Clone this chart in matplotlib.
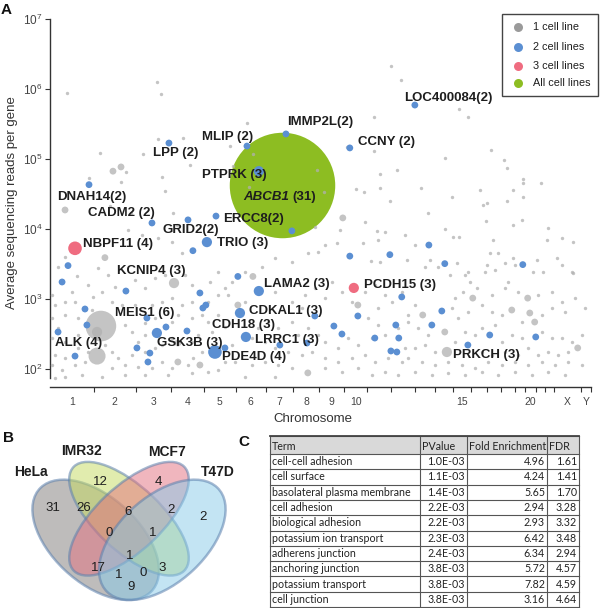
import matplotlib
matplotlib.use("Agg")
import matplotlib.pyplot as plt
from matplotlib.patches import Ellipse, Rectangle
from matplotlib.ticker import NullLocator
import numpy as np

plt.rcParams['font.family'] = ['Liberation Sans', 'DejaVu Sans']
plt.rcParams['mathtext.fontset'] = 'custom'
plt.rcParams['mathtext.rm'] = 'Liberation Sans'
plt.rcParams['mathtext.it'] = 'Liberation Sans:italic'
plt.rcParams['mathtext.bf'] = 'Liberation Sans:bold'

# --- panel A data: genome position (Mb, cumulative) and average reads per gene ---
chrom_names = ['1', '2', '3', '4', '5', '6', '7', '8', '9', '10', '11', '12', '13', '14', '15',
               '16', '17', '18', '19', '20', '21', '22', 'X', 'Y']
chrom_len_mb = [249, 243, 198, 191, 181, 171, 159, 146, 141, 136, 135, 134, 115, 107, 103,
                90, 81, 78, 59, 63, 48, 51, 155, 59]
shown_chrom = ['1', '2', '3', '4', '5', '6', '7', '8', '9', '10', '15', '20', 'X', 'Y']

# genes found in one cell line (single sample)
gray_mb = [97, 611, 634, 1126, 286, 531, 617, 760, 1029, 1160,
           800, 640, 1046, 657, 1137, 223, 406, 434, 1526, 1566,
           1697, 1851, 1949, 2006, 1851, 1886, 1983, 1749, 1794, 1886,
           1943, 2337, 2389, 2520, 2257, 2594, 2611, 2703, 2703, 2806,
           2646, 2120, 2297, 2703, 2611, 2474, 2457, 2497,
           343, 463, 703, 726, 446, 526, 617, 697, 754, 160,
           86, 46, 331, 274, 154, 217, 126, 11, 29, 86,
           143, 246, 297, 371, 486, 543, 600, 657, 771, 811,
           914, 960, 1000, 960, 903, 811, 754, 697, 640, 583,
           486, 411, 354, 240, 160, 86, 11, 46, 11, 86,
           160, 429, 469, 503, 543, 543, 600, 697, 731, 811,
           869, 903, 960, 1000, 926, 846, 811, 697, 640, 600,
           543, 469, 389, 354, 314, 217, 160, 86, 29, 11,
           69, 143, 200, 354, 429, 503, 583, 640, 697, 789,
           869, 817, 1000, 960, 903, 811, 674, 543, 429, 297,
           183, 86, 29,
           1514, 1657, 1800, 1914, 2029, 1571, 1474, 1383, 1286, 1211,
           1114, 1040, 1017, 1114, 1286, 1343, 1383, 1457, 1440, 1514,
           1571, 1611, 1669, 1726, 1800, 1857, 1914, 1954, 2011, 1874,
           1817, 1874, 1914, 1840, 1760, 1703, 1646, 1571, 1531, 1474,
           1417, 1383, 1303, 1246, 1189, 1154, 1229, 1286, 1360, 1440,
           1497, 1571, 1646, 1726, 1800, 1857, 1931, 2011, 2029, 1989,
           2046, 1040, 1057, 1154, 1229, 1303, 1383, 1571, 1669, 1760,
           1840, 1914, 1989, 1114, 1286,
           2160, 1869, 2257, 2303, 2337, 2491, 2531, 2646, 2697, 2846,
           2840, 2926, 2989, 2086, 1874, 1789, 1640, 1531, 1834, 1886,
           2040, 2143, 2326, 2389, 2497, 2543, 2646, 2783, 2760, 2897,
           2989, 2514, 2560, 2486, 2600, 2657, 2817, 2926, 2983, 2171,
           2217, 2286, 2371, 2400, 2440, 2360, 2314, 2469, 2526, 2600,
           2617, 2674, 2789, 2869, 2926, 3000, 3057, 2943, 2869, 2811,
           2697, 2583, 2526, 2389, 2331, 2297, 2086, 2046, 2103, 2160,
           2314, 2371, 2429, 2469, 2543, 2583, 2640, 2697, 2731, 2811,
           2869, 2926, 2983, 3040, 2960, 2903, 2846, 2789, 2674, 2600,
           2526, 2469, 2200, 2143, 2086, 2046, 2126, 2200, 2274, 2354,
           2429, 2503, 2583, 2657, 2731, 2811, 2886, 2960, 3040, 2086,
           2183, 2274, 2371, 2469, 2560, 2657, 2754, 2846, 2943]
gray_reads = [8.8e5, 1.26e6, 8.5e5, 3.3e5, 1.22e5, 1.18e5, 1.93e5, 2.0e5, 1.53e5, 1.18e5,
              8.2e4, 5.5e4, 7.9e4, 3.5e4, 4.0e4, 5.4e4, 4.7e4, 6.5e4, 7.0e4, 3.4e4,
              1.48e5, 4.0e5, 2.1e6, 1.35e6, 1.3e5, 6.1e4, 7.0e4, 3.7e4, 3.4e4, 3.9e4,
              2.5e4, 5.2e5, 4.0e5, 1.35e5, 1.03e5, 9.7e4, 7.4e4, 5.2e4, 4.5e4, 4.5e4,
              3.6e4, 3.9e4, 2.9e4, 2.9e4, 2.5e4, 2.2e4, 3.6e4, 2.35e4,
              2.1e4, 1.7e4, 1.7e4, 1.14e4, 9.7e3, 8.2e3, 7.4e3, 6.5e3, 4.5e3, 5.0e3,
              4.0e3, 2.9e3, 2.2e3, 2.8e3, 2.1e3, 1.58e3, 1.26e3, 1.14e3, 820, 906,
              906, 1.07e3, 1.26e3, 1.48e3, 1.87e3, 1.44e3, 2.0e3, 2.2e3, 2.2e3, 1.58e3,
              1.75e3, 2.4e3, 1.44e3, 1.14e3, 906, 906, 820, 1.03e3, 906, 820,
              820, 820, 906, 696, 535, 591, 535, 385, 277, 243,
              306, 425, 338, 243, 306, 454, 535, 469, 591, 535,
              591, 469, 591, 398, 338, 306, 243, 277, 220, 200,
              175, 158, 144, 175, 220, 175, 200, 144, 158, 114,
              97, 114, 126, 103, 114, 107, 103, 126, 103, 114,
              175, 144, 126, 97, 91, 88, 82, 82, 82, 77,
              82, 77, 74,
              1.07e4, 9.7e3, 1.26e4, 9.1e3, 8.2e3, 5.9e3, 4.5e3, 3.4e3, 3.9e3, 2.9e3,
              2.4e3, 1.75e3, 1.14e3, 906, 1.26e3, 1.58e3, 906, 1.14e3, 744, 1.44e3,
              1.03e3, 1.75e3, 1.26e3, 906, 1.26e3, 1.58e3, 1.14e3, 906, 1.26e3, 744,
              535, 425, 306, 277, 220, 277, 200, 243, 306, 385,
              306, 469, 385, 469, 385, 277, 243, 200, 175, 158,
              175, 144, 126, 144, 158, 126, 144, 126, 200, 385,
              591, 220, 126, 114, 126, 114, 103, 103, 91, 103,
              82, 91, 82, 77, 77,
              1.7e4, 9.4e3, 1.0e4, 7.7e3, 7.7e3, 1.3e4, 7.0e3, 1.14e4, 1.35e4, 1.03e4,
              7.0e3, 7.4e3, 6.5e3, 5.9e3, 7.0e3, 6.3e3, 6.3e3, 4.7e3, 3.5e3, 3.4e3,
              3.6e3, 2.9e3, 3.3e3, 2.4e3, 3.1e3, 2.6e3, 3.9e3, 3.6e3, 2.4e3, 3.9e3,
              2.35e3, 4.5e3, 4.5e3, 2.4e3, 3.3e3, 3.1e3, 2.4e3, 3.1e3, 2.4e3, 3.6e3,
              2.9e3, 2.2e3, 2.2e3, 1.75e3, 1.44e3, 1.26e3, 1.03e3, 820, 1.14e3, 1.44e3,
              1.75e3, 1.26e3, 1.14e3, 1.26e3, 906, 1.03e3, 744, 652, 744, 591,
              469, 591, 652, 652, 535, 744, 820, 469, 385, 306,
              243, 338, 306, 385, 425, 243, 306, 277, 200, 338,
              277, 277, 243, 306, 175, 158, 175, 158, 158, 175,
              158, 175, 175, 220, 200, 144, 126, 114, 126, 114,
              103, 126, 114, 126, 114, 126, 114, 126, 114, 91,
              82, 88, 82, 91, 82, 91, 82, 91, 82]

# one-cell-line genes seen in more samples (bigger grey circles)
gray_big_mb = [86, 360, 406, 314, 709, 291, 269, 269, 731, 731, 857, 1160, 1074,
               1674, 1760, 1474, 2417, 2731, 2743, 2771, 2640, 2131, 2257, 2269, 3017]
gray_big_reads = [1.87e4, 6.7e4, 7.7e4, 3.9e3, 1.69e3, 411, 338, 153, 235, 126, 114, 2.1e3, 820,
                  1.44e4, 820, 88, 1.03e3, 1.03e3, 631, 469, 696, 591, 338, 175, 200]
gray_big_n = [2, 2, 2, 2, 3, 9, 3, 5, 2, 2, 2, 2, 2, 2, 2, 2, 2, 2, 2, 2, 2, 2, 2, 3, 2]

# genes found in two cell lines
blue_mb = [680, 1126, 1194, 1349, 223, 2086, 1714, 583, 789, 949,
           1383, 897, 817, 103, 69, 434, 1074, 857, 1194, 891,
           874, 200, 211, 554, 1086, 46, 663, 611, 783, 1120,
           497, 1314, 943, 1000, 143, 571, 560, 1714, 1943, 2166,
           2257, 2703, 2011, 2240, 1760, 1623, 1669, 1514, 1977, 2183,
           1857, 1994, 1949, 1983, 2514, 2777, 2389, 1469]
blue_reads = [1.69e5, 1.53e5, 6.7e4, 2.28e5, 4.3e4, 5.9e5, 1.44e5, 1.22e4, 1.35e4, 1.53e4,
              9.4e3, 6.5e3, 4.9e3, 3.0e3, 1.75e3, 1.3e3, 2.1e3, 1.22e3, 1.3e3, 820,
              744, 720, 425, 535, 631, 338, 398, 327, 349, 287,
              200, 220, 175, 200, 153, 169, 126, 4.1e3, 4.3e3, 5.9e3,
              3.2e3, 3.1e3, 1.07e3, 674, 572, 411, 316, 572, 425, 425,
              277, 277, 181, 175, 306, 287, 220, 235]
blue_n = [2, 2, 3, 2, 2, 2, 2, 2, 2, 2,
          2, 3, 2, 2, 2, 2, 2, 2, 3, 2,
          2, 2, 2, 2, 3, 2, 2, 3, 2, 3,
          2, 2, 4, 2, 2, 2, 2, 2, 2, 2,
          2, 2, 2, 2, 2, 2, 2, 2, 2, 2,
          2, 2, 2, 2, 2, 2, 2, 2]

# three cell lines / all cell lines
pink_mb = [143, 1737]
pink_reads = [5.3e3, 1.44e3]
pink_n = [4, 3]
green_mb = [1326]
green_reads = [4.3e4]
green_n = [31]

gene_labels = [('LOC400084(2)', 2023, 7.4e5), ('IMMP2L(2)', 1354, 3.38e5), ('CCNY (2)', 1760, 1.75e5),
               ('MLIP (2)', 869, 2.06e5), ('LPP (2)', 589, 1.22e5), ('PTPRK (3)', 869, 5.9e4),
               ('DNAH14(2)', 40, 2.9e4), ('CADM2 (2)', 217, 1.69e4), ('ERCC8(2)', 989, 1.39e4),
               ('GRID2(2)', 646, 9.7e3), ('NBPF11 (4)', 189, 6.1e3), ('TRIO (3)', 954, 6.3e3),
               ('KCNIP4 (3)', 383, 2.5e3), ('LAMA2 (3)', 1223, 1.64e3), ('PCDH15 (3)', 1794, 1.58e3),
               ('MEIS1 (6)', 371, 631), ('CDKAL1 (3)', 1137, 674), ('CDH18 (3)', 926, 425),
               ('ALK (4)', 29, 235), ('GSK3B (3)', 611, 235), ('LRRC1 (3)', 1171, 260),
               ('PDE4D (4)', 983, 148), ('PRKCH (3)', 2303, 158), ('(31)', 1383, 2.9e4)]

# --- panel B data ---
venn_sets = ['HeLa', 'IMR32', 'MCF7', 'T47D']
venn_counts = [31, 12, 4, 2, 26, 6, 2, 0, 1, 1, 17, 1, 0, 3, 9]

# --- panel C data ---
go_terms = ['cell-cell adhesion', 'cell surface', 'basolateral plasma membrane', 'cell adhesion',
            'biological adhesion', 'potassium ion transport', 'adherens junction',
            'anchoring junction', 'potassium transport', 'cell junction']
go_pvalue = ['1.0E-03', '1.1E-03', '1.4E-03', '2.2E-03', '2.2E-03', '2.3E-03', '2.4E-03',
             '3.8E-03', '3.8E-03', '3.8E-03']
go_fold = [4.96, 4.24, 5.65, 2.94, 2.93, 6.42, 6.34, 5.72, 7.82, 3.16]
go_fdr = [1.61, 1.41, 1.70, 3.28, 3.32, 3.48, 2.94, 4.57, 4.59, 4.64]

GRAY = '#b0b0b0'
BLUE = '#5b8fd2'
PINK = '#ef6c80'
GREEN = '#8dbd22'
TXT = '#1e1e1e'

W, H = 600, 608
fig = plt.figure(figsize=(6.0, 6.08), dpi=100)


def px_box(x0, y0, x1, y1):
    return [x0 / W, 1 - y1 / H, (x1 - x0) / W, (y1 - y0) / H]


def msize(n):
    # circle radius grows with the number of samples
    return (2.45 * np.asarray(n, dtype=float)) ** 2


# ===== A: scatter =====
ax = fig.add_axes(px_box(50, 19, 591, 387))
ax.set_yscale('log')
ends = np.cumsum(chrom_len_mb)
centers = ends - np.array(chrom_len_mb) / 2
ax.set_xlim(0, ends[-1])
ax.set_ylim(10 ** 1.743, 1e7)

ax.scatter(green_mb, green_reads, s=msize(green_n), c=GREEN, lw=0, zorder=2)
ax.scatter(gray_mb, gray_reads, s=msize(1), c=GRAY, alpha=0.75, lw=0, zorder=3)
ax.scatter(gray_big_mb, gray_big_reads, s=msize(gray_big_n), c=GRAY, alpha=0.75, lw=0, zorder=3)
ax.scatter(blue_mb, blue_reads, s=msize(blue_n), c=BLUE, lw=0, zorder=4)
ax.scatter(pink_mb, pink_reads, s=msize(pink_n), c=PINK, lw=0, zorder=4)

for name, xm, yr in gene_labels:
    ax.text(xm, yr, name, fontsize=9.5, fontweight='bold', color=TXT, ha='left', va='center', zorder=6)
ax.text(1103, 2.9e4, 'ABCB1', fontsize=9.5, fontweight='bold', style='italic', color=TXT,
        ha='left', va='center', zorder=6)

ax.set_xticks(ends)
ax.set_xticks([centers[chrom_names.index(c)] for c in shown_chrom], minor=True)
ax.set_xticklabels(shown_chrom, minor=True)
ax.tick_params(axis='x', which='major', direction='out', length=3.5, width=0.8, color='#333',
               labelbottom=False)
ax.tick_params(axis='x', which='minor', length=0, pad=7, labelsize=7.5, labelcolor='#444')

ax.set_yticks([1e2, 1e3, 1e4, 1e5, 1e6, 1e7])
ax.set_yticklabels([r'$10^{%d}$' % k for k in range(2, 8)])
ax.yaxis.set_minor_locator(NullLocator())
ax.tick_params(axis='y', direction='out', length=3.5, width=0.8, color='#333', labelsize=8.5,
               labelcolor='#444', pad=2)

for side in ['top', 'right']:
    ax.spines[side].set_visible(False)
ax.spines['left'].set_bounds(10 ** 1.87, 1e7)
for side in ['left', 'bottom']:
    ax.spines[side].set_color('#333')
    ax.spines[side].set_linewidth(1.0)

# ===== B: Venn =====
av = fig.add_axes(px_box(18, 440, 240, 608))
av.set_xlim(0, 1)
av.set_ylim(0.147, 0.943)
av.axis('off')
venn_shapes = [(0.35, 0.47, 0.35, 0.20, 135, '#7f7b79'),
               (0.50, 0.57, 0.35, 0.15, 135, '#c5da5e'),
               (0.50, 0.57, 0.35, 0.15, 45, '#e36f7e'),
               (0.65, 0.47, 0.35, 0.20, 45, '#88cbe9')]
for cx, cy, a, b, rot, col in venn_shapes:
    av.add_patch(Ellipse((cx, cy), 2 * a, 2 * b, angle=rot, facecolor=col, alpha=0.5, lw=0))
    av.add_patch(Ellipse((cx, cy), 2 * a, 2 * b, angle=rot, facecolor='none',
                         edgecolor=(0.36, 0.50, 0.68, 0.55), lw=1.8))

# ===== overlay in pixel coordinates =====
ov = fig.add_axes([0, 0, 1, 1])
ov.set_xlim(0, W)
ov.set_ylim(H, 0)
ov.axis('off')
ov.set_zorder(5)

ov.text(6, 10, 'A', fontsize=11, fontweight='bold', ha='center', va='center', color='#111')
ov.text(8, 438, 'B', fontsize=11, fontweight='bold', ha='center', va='center', color='#111')
ov.text(244, 442, 'C', fontsize=11, fontweight='bold', ha='center', va='center', color='#111')

ov.text(12, 203, 'Average sequencing reads per gene', rotation=90, ha='center', va='center',
        fontsize=9.5, color='#333')
ov.text(313, 419, 'Chromosome', ha='center', va='center', fontsize=9.5, color='#333')

# legend
ov.add_patch(Rectangle((502, 14), 96, 82, facecolor='white', edgecolor='#444', lw=1.0, zorder=7))
leg_items = [('1 cell line', '#9a9a9a'), ('2 cell lines', BLUE), ('3 cell lines', PINK),
             ('All cell lines', GREEN)]
for (lab, col), yy in zip(leg_items, [27, 47, 66, 83]):
    ov.scatter([518], [yy], s=42, c=col, lw=0, zorder=8)
    ov.text(533, yy, lab, fontsize=7.8, color=TXT, ha='left', va='center', zorder=8)

# venn labels
for name, (xx, yy) in zip(venn_sets, [(31, 472), (81, 451), (167, 452), (218, 472)]):
    ov.text(xx, yy, name, fontsize=10, fontweight='bold', ha='center', va='center', color=TXT)
venn_xy = [(53, 508), (100, 482), (158, 482), (203, 517), (84, 508), (128, 512), (171, 510),
           (109, 533), (153, 533), (130, 556), (98, 568), (119, 575), (143, 573), (162, 568),
           (131, 587)]
for cnt, (xx, yy) in zip(venn_counts, venn_xy):
    ov.text(xx, yy, str(cnt), fontsize=9.5, ha='center', va='center', color=TXT)

# ===== C: table =====
col_x = [270, 420, 467, 547, 579]
row_y = [436, 454] + [454 + 15.3 * k for k in range(1, 11)]
ov.add_patch(Rectangle((col_x[0], row_y[0]), col_x[-1] - col_x[0], row_y[1] - row_y[0],
                       facecolor='#d9d9d9', lw=0))
for yy in row_y:
    ov.plot([col_x[0], col_x[-1]], [yy, yy], color='#555', lw=0.8)
for xx in col_x:
    ov.plot([xx, xx], [row_y[0], row_y[-1]], color='#555', lw=0.8)
ov.plot([col_x[0], col_x[-1]], [row_y[0], row_y[0]], color='#444', lw=1.3)

tfont = dict(family=['Lato', 'DejaVu Sans'], fontsize=7.7, color='#222', va='center')
hy = (row_y[0] + row_y[1]) / 2 + 1
for xx, head in zip(col_x[:-1], ['Term', 'PValue', 'Fold Enrichment', 'FDR']):
    ov.text(xx + 2, hy, head, ha='left', **tfont)
for i in range(len(go_terms)):
    yy = (row_y[i + 1] + row_y[i + 2]) / 2
    ov.text(col_x[0] + 2, yy, go_terms[i], ha='left', **tfont)
    ov.text(col_x[2] - 2, yy, go_pvalue[i], ha='right', **tfont)
    ov.text(col_x[3] - 2, yy, '%.2f' % go_fold[i], ha='right', **tfont)
    ov.text(col_x[4] - 2, yy, '%.2f' % go_fdr[i], ha='right', **tfont)

fig.savefig('out.png', dpi=100)
